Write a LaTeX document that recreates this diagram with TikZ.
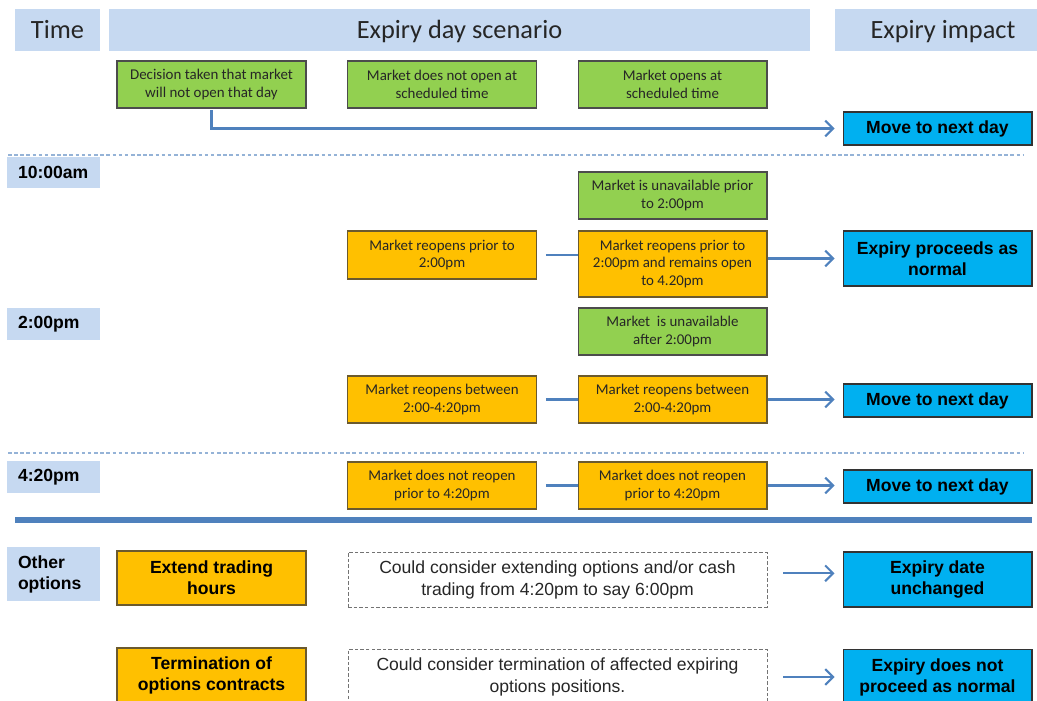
\documentclass[tikz,border=0pt]{standalone}
\usepackage{fontspec}
\setmainfont{Carlito}
\newfontfamily\arialf{Liberation Sans}
\usetikzlibrary{arrows.meta}
\definecolor{hdrblue}{HTML}{C6D9F1}
\definecolor{grnfill}{HTML}{92D050}
\definecolor{orgfill}{HTML}{FFC000}
\definecolor{impfill}{HTML}{00B0F0}
\definecolor{arrblue}{HTML}{4F81BD}
\definecolor{sepblue}{HTML}{95B3D7}
\definecolor{orgline}{HTML}{6B5A2E}
\newcommand{\hdrtxt}[1]{\raisebox{-5pt}[0pt][0pt]{#1}}
\begin{document}
\begin{tikzpicture}[x=0.02cm,y=-0.02cm,
  hdr/.style={fill=hdrblue, inner sep=0pt, text=black!85, font=\fontsize{15}{18}\selectfont},
  tlab/.style={fill=hdrblue, inner xsep=0.22cm, inner ysep=0pt, minimum width=1.86cm, text width=1.42cm, align=left, font=\arialf\bfseries\fontsize{10}{12}\selectfont},
  gbox/.style={fill=grnfill, draw=black!70, line width=0.6pt, inner sep=0pt, minimum width=3.78cm, align=center, text=black!85, font=\fontsize{8.5}{10.2}\selectfont},
  obox/.style={gbox, fill=orgfill, draw=orgline},
  obig/.style={obox, font=\arialf\bfseries\fontsize{10}{12}\selectfont, text=black},
  ibox/.style={fill=impfill, draw=black!80, line width=0.6pt, inner sep=0pt, minimum width=3.78cm, align=center, font=\arialf\bfseries\fontsize{10}{12}\selectfont},
  dbox/.style={draw=black!55, dashed, dash pattern=on 2pt off 1.2pt, line width=0.5pt, inner sep=0pt, minimum width=8.38cm, align=center, text=black!85, font=\arialf\fontsize{10}{12.5}\selectfont},
  arr/.style={draw=arrblue, line width=1.2pt, -{Straight Barb[length=4.5pt,width=9pt]}, shorten >=4.5pt},
  ln/.style={draw=arrblue, line width=1.2pt},
  sep/.style={draw=sepblue, line width=0.6pt, dash pattern=on 2pt off 1.5pt}
]
\useasboundingbox (0,0) rectangle (1037,700);
\clip (0,0) rectangle (1037,700);

% headers
\node[hdr, minimum width=1.70cm, minimum height=0.84cm] (hT) at (57.5,30) {\hdrtxt{Time}};
\node[hdr, minimum width=14.02cm, minimum height=0.84cm] (hS) at (459.5,30) {\hdrtxt{Expiry day scenario}};
\node[hdr, minimum width=4.32cm, minimum height=0.84cm] (hI) at (943,30) {\hdrtxt{Expiry impact}};

% top row
\node[gbox, minimum height=0.94cm] (dec) at (211.5,84.5) {Decision taken that market\\will not open that day};
\node[gbox, minimum height=0.94cm] (nopen) at (442,84.5) {Market does not open at\\scheduled time};
\node[gbox, minimum height=0.94cm] (opens) at (672.5,84.5) {Market opens at\\scheduled time};
\node[ibox, minimum height=0.66cm] (mv1) at (937.5,128.5) {Move to next day};
\draw[arr, shorten <=1pt] (dec.south) |- (mv1.west);

\draw[sep] (8,155) -- (1023,155);

% 10:00am
\node[tlab, minimum height=0.62cm] (t10) at (53.5,172.5) {10:00am};
\node[gbox, minimum height=0.94cm] (un1) at (672.5,195.5) {Market is unavailable prior\\to 2:00pm};
\node[obox, minimum height=0.96cm] (r1) at (442,255) {Market reopens prior to\\2:00pm};
\node[obox, minimum height=1.32cm] (m2) at (672.5,264) {Market reopens prior to\\2:00pm and remains open\\to 4.20pm};
\node[ibox, minimum height=1.10cm] (exp) at (937.5,258.5) {Expiry proceeds as\\normal};
\draw[ln, shorten <=5pt] (r1.east) -- (r1.east -| m2.west);
\draw[arr] (m2.east |- exp.west) -- (exp.west);

% 2:00pm
\node[tlab, minimum height=0.64cm] (t2) at (53.5,324) {2:00pm};
\node[gbox, minimum height=0.94cm] (un2) at (672.5,331.5) {Market\ \ is unavailable\\after 2:00pm};
\node[obox, minimum height=0.94cm] (r2) at (442,399.5) {Market reopens between\\2:00-4:20pm};
\node[obox, minimum height=0.94cm] (m3) at (672.5,399.5) {Market reopens between\\2:00-4:20pm};
\node[ibox, minimum height=0.66cm] (mv2) at (937.5,400.5) {Move to next day};
\draw[ln, shorten <=5pt] (r2.east) -- (m3.west);
\draw[arr] (m3.east) -- (m3.east -| mv2.west);

\draw[sep] (8,453) -- (1023,453);

% 4:20pm
\node[tlab, minimum height=0.64cm] (t3) at (53.5,477) {4:20pm};
\node[obox, minimum height=0.94cm] (nr1) at (442,485.5) {Market does not reopen\\prior to 4:20pm};
\node[obox, minimum height=0.94cm] (nr2) at (672.5,485.5) {Market does not reopen\\prior to 4:20pm};
\node[ibox, minimum height=0.66cm] (mv3) at (937.5,486.5) {Move to next day};
\draw[ln, shorten <=5pt] (nr1.east) -- (nr2.west);
\draw[arr] (nr2.east) -- (nr2.east -| mv3.west);

\draw[draw=arrblue, line width=3.4pt] (15,520) -- (1032,520);

% other options
\node[tlab, minimum height=1.08cm] (oo) at (53.5,574) {Other\\options};
\node[obig, minimum height=1.08cm] (ext) at (211.5,578) {Extend trading\\hours};
\node[dbox, minimum height=1.10cm] (db1) at (557.5,579.5) {Could consider extending options and/or cash\\trading from 4:20pm to say 6:00pm};
\node[ibox, minimum height=1.10cm] (edu) at (937.5,579.5) {Expiry date\\unchanged};
\draw[arr, shorten <=9pt] ([yshift=3.5pt]db1.east) -- ([yshift=3.5pt]edu.west);

\node[obig, minimum height=1.10cm] (term) at (211.5,675.5) {Termination of\\options contracts};
\node[dbox, minimum height=1.10cm] (db2) at (557.5,677) {Could consider termination of affected expiring\\options positions.};
\node[ibox, minimum height=1.10cm] (edn) at (937.5,677) {Expiry does not\\proceed as normal};
\draw[arr, shorten <=9pt] (db2.east) -- (edn.west);
\end{tikzpicture}
\end{document}
